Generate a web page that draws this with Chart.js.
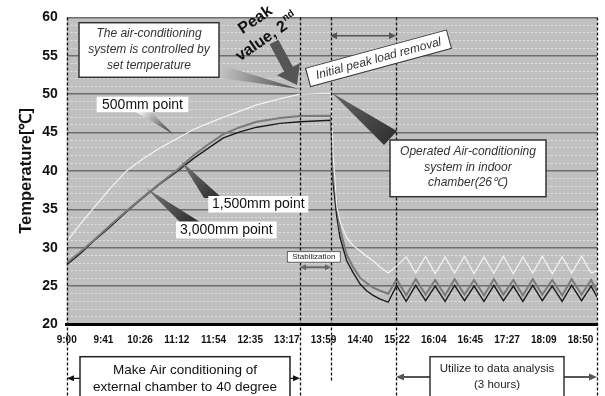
<!DOCTYPE html>
<html lang="en">
<head>
  <meta charset="UTF-8" />
  <title>Chamber temperature</title>
  <script src="https://cdn.jsdelivr.net/npm/chart.js"></script>
  <style>
    body { margin: 0; background: #fff; }
    #wrap { width: 605px; height: 396px; }
  </style>
</head>
<body>
  <div id="wrap"><canvas id="tempChart" width="605" height="396"></canvas></div>

  <script>
    // x tick labels (evenly spaced on the axis)
    const tickLabels = ['9:00', '9:41', '10:26', '11:12', '11:54', '12:35', '13:17', '13:59',
                        '14:40', '15:22', '16:04', '16:45', '17:27', '18:09', '18:50'];
    // position of each reading, in tick steps from 9:00
    const pos = [0, 0.36, 0.72, 1.18, 1.63, 2.08, 2.54, 3.0, 3.45, 3.9, 4.27, 4.72, 5.18, 5.81, 6.36, 7.2,
                 7.26, 7.36, 7.45, 7.63, 7.8, 7.99, 8.17, 8.35, 8.54, 8.76, 8.99,
                 9.25, 9.51, 9.78, 10.04, 10.31, 10.57, 10.84, 11.1, 11.37, 11.64, 11.9, 12.17,
                 12.43, 12.7, 12.96, 13.23, 13.5, 13.76, 14.03, 14.29, 14.45];
    const t500 = [30.8, 33.0, 35.1, 37.7, 40.0, 41.6, 43.0, 44.2, 45.4, 46.3, 47.0, 47.8, 48.6, 49.4, 50.0, 50.1,
                  42.0, 35.5, 33.4, 31.3, 30.3, 29.6, 28.9, 28.3, 27.5, 26.7, 27.6,
                  28.8, 26.7, 28.9, 26.6, 28.8, 26.7, 28.9, 26.6, 28.8, 26.7, 28.9, 26.6,
                  28.8, 26.7, 28.9, 26.6, 28.8, 26.7, 28.9, 26.7, 27.0];
    const t1500 = [28.0, 29.4, 30.9, 32.9, 34.8, 36.6, 38.4, 40.1, 42.0, 43.6, 44.8, 45.7, 46.4, 46.9, 47.15, 47.2,
                   40.0, 35.5, 32.3, 29.1, 27.5, 26.1, 25.4, 24.8, 24.4, 24.0, 25.9,
                   23.8, 25.9, 23.9, 25.8, 23.8, 25.9, 23.9, 25.8, 23.8, 25.9, 23.9, 25.8,
                   23.8, 25.9, 23.9, 25.8, 23.8, 25.9, 23.9, 25.8, 24.3];
    const t3000 = [27.8, 29.2, 30.8, 32.7, 34.7, 36.5, 38.3, 39.9, 41.6, 43.1, 44.3, 45.1, 45.7, 46.2, 46.4, 46.6,
                   38.5, 34.0, 31.3, 28.3, 26.8, 25.3, 24.4, 23.8, 23.3, 22.9, 25.1,
                   23.0, 25.1, 23.1, 25.0, 23.0, 25.1, 23.1, 25.0, 23.0, 25.1, 23.1, 25.0,
                   23.0, 25.1, 23.1, 25.0, 23.0, 25.1, 23.1, 25.0, 23.6];
    // dashed phase markers, in tick steps
    const markerPos = [0, 6.36, 7.19, 8.97, 14.45];

    const FONT = "'Liberation Sans', Arial, sans-serif";

    function series(vals) {
      return pos.map((p, i) => ({ x: p, y: vals[i] }));
    }

    function wedge(ctx, tip, b1, b2, cTip, cBase) {
      const mx = (b1[0] + b2[0]) / 2, my = (b1[1] + b2[1]) / 2;
      const g = ctx.createLinearGradient(mx, my, tip[0], tip[1]);
      g.addColorStop(0, cBase);
      g.addColorStop(1, cTip);
      ctx.fillStyle = g;
      ctx.beginPath();
      ctx.moveTo(b1[0], b1[1]);
      ctx.lineTo(tip[0], tip[1]);
      ctx.lineTo(b2[0], b2[1]);
      ctx.closePath();
      ctx.fill();
    }

    function textBox(ctx, x, y, w, h, stroke, lw) {
      ctx.fillStyle = '#fff';
      ctx.fillRect(x, y, w, h);
      if (stroke) {
        ctx.strokeStyle = stroke;
        ctx.lineWidth = lw;
        ctx.strokeRect(x, y, w, h);
      }
    }

    function centerText(ctx, lines, cx, ys, font, color) {
      ctx.font = font;
      ctx.fillStyle = color;
      ctx.textAlign = 'center';
      ctx.textBaseline = 'middle';
      lines.forEach((t, i) => ctx.fillText(t, cx, ys[i]));
    }

    function dblArrow(ctx, x1, x2, y, color, lw, hl, hw) {
      ctx.strokeStyle = color;
      ctx.fillStyle = color;
      ctx.lineWidth = lw;
      ctx.beginPath();
      ctx.moveTo(x1 + hl * 0.5, y);
      ctx.lineTo(x2 - hl * 0.5, y);
      ctx.stroke();
      [[x1, 1], [x2, -1]].forEach(([x, d]) => {
        ctx.beginPath();
        ctx.moveTo(x, y);
        ctx.lineTo(x + d * hl, y - hw);
        ctx.lineTo(x + d * hl, y + hw);
        ctx.closePath();
        ctx.fill();
      });
    }

    function blockArrow(ctx, x1, y1, x2, y2, sw, hw, hl, color) {
      const dx = x2 - x1, dy = y2 - y1, L = Math.hypot(dx, dy);
      const ux = dx / L, uy = dy / L, nx = -uy, ny = ux;
      const bx = x2 - ux * hl, by = y2 - uy * hl;
      ctx.beginPath();
      ctx.moveTo(x1 + nx * sw / 2, y1 + ny * sw / 2);
      ctx.lineTo(bx + nx * sw / 2, by + ny * sw / 2);
      ctx.lineTo(bx + nx * hw / 2, by + ny * hw / 2);
      ctx.lineTo(x2, y2);
      ctx.lineTo(bx - nx * hw / 2, by - ny * hw / 2);
      ctx.lineTo(bx - nx * sw / 2, by - ny * sw / 2);
      ctx.lineTo(x1 - nx * sw / 2, y1 - ny * sw / 2);
      ctx.closePath();
      ctx.fillStyle = color;
      ctx.fill();
    }

    const overlay = {
      id: 'overlay',
      beforeDraw(chart) {
        const { ctx, chartArea: a } = chart;
        ctx.save();
        ctx.fillStyle = '#fff';
        ctx.fillRect(0, 0, chart.width, chart.height);
        ctx.fillStyle = '#c0c0c0';
        ctx.fillRect(a.left, a.top, a.right - a.left, a.bottom - a.top);
        ctx.restore();
      },
      afterDraw(chart) {
        const ctx = chart.ctx;
        const xs = chart.scales.x;
        const top = chart.chartArea.top;
        const ends = [396, 396, 381, 396, 396];
        ctx.save();

        // dashed phase lines
        ctx.strokeStyle = '#111';
        ctx.lineWidth = 1.3;
        ctx.setLineDash([3, 2]);
        markerPos.forEach((p, i) => {
          const x = Math.round(xs.getPixelForValue(p)) + 0.5;
          ctx.beginPath();
          ctx.moveTo(x, top);
          ctx.lineTo(x, ends[i]);
          ctx.stroke();
        });
        ctx.setLineDash([]);

        // callout wedges
        wedge(ctx, [299, 89], [205, 60], [214, 77], '#4a4a4a', '#d4d4d4');
        wedge(ctx, [173, 134], [134, 111], [150, 111], '#333', '#eaeaea');
        wedge(ctx, [181, 161], [204, 198], [222, 198], '#777', '#333');
        wedge(ctx, [146, 188], [180, 222], [200, 222], '#777', '#333');
        wedge(ctx, [332, 93], [384, 145], [397, 131], '#666', '#333');

        // set-temperature box
        textBox(ctx, 79, 22.7, 140, 54.6, '#333', 1.5);
        centerText(ctx, ['The air-conditioning', 'system is controlled by', 'set temperature'],
                   149, [34, 50, 65.5], 'italic 12px ' + FONT, '#333');

        // peak label
        ctx.save();
        ctx.translate(255.5, 20);
        ctx.rotate(-34.5 * Math.PI / 180);
        ctx.font = 'bold 16px ' + FONT;
        ctx.fillStyle = '#111';
        ctx.textAlign = 'center';
        ctx.textBaseline = 'middle';
        ctx.fillText('Peak', 0, 0);
        const w2 = ctx.measureText('value, 2').width;
        ctx.fillText('value, 2', -7, 21);
        ctx.font = 'bold 10px ' + FONT;
        ctx.textAlign = 'left';
        ctx.fillText('nd', -7 + w2 / 2 + 1, 15);
        ctx.restore();
        blockArrow(ctx, 274, 42, 297, 85, 10, 26, 18, '#555');

        // peak load removal label
        ctx.save();
        ctx.translate(378.5, 58.3);
        ctx.rotate(-15.2 * Math.PI / 180);
        textBox(ctx, -73, -9.5, 146, 19, '#333', 1);
        centerText(ctx, ['Initial peak load removal'], 0, [0.5], 'italic 12px ' + FONT, '#333');
        ctx.restore();
        dblArrow(ctx, 330, 396, 35.7, '#555', 1.6, 7, 3.5);

        // indoor chamber box
        textBox(ctx, 390, 140, 156, 56.7, '#333', 1.5);
        centerText(ctx, ['Operated Air-conditioning', 'system in indoor', 'chamber(26\u2103)'],
                   468, [152, 167.5, 183], 'italic 12px ' + FONT, '#333');

        // series labels
        textBox(ctx, 96.7, 96.7, 91.6, 15.5);
        textBox(ctx, 208.3, 196, 100, 16.5);
        textBox(ctx, 176, 221.5, 100.7, 17);
        centerText(ctx, ['500mm point'], 142.5, [104.8], '14px ' + FONT, '#111');
        centerText(ctx, ['1,500mm point'], 258.3, [204.5], '14px ' + FONT, '#111');
        centerText(ctx, ['3,000mm point'], 226.3, [230.2], '14px ' + FONT, '#111');

        // stabilization
        textBox(ctx, 287.3, 251.7, 53, 10.5, '#444', 0.8);
        centerText(ctx, ['Stabilization'], 313.8, [257.2], '8px ' + FONT, '#222');
        dblArrow(ctx, 300, 331, 267.3, '#666', 2, 6, 3);

        // bottom phase labels
        dblArrow(ctx, 67, 300, 378.3, '#111', 1.2, 7, 3);
        textBox(ctx, 80, 356.7, 210, 45, '#222', 1.5);
        centerText(ctx, ['Make Air conditioning of', 'external chamber to 40 degree'],
                   185, [370, 387.5], '13.5px ' + FONT, '#111');
        dblArrow(ctx, 396, 597, 377, '#555', 2, 8, 3.5);
        textBox(ctx, 430, 356.7, 134, 45, '#333', 1.5);
        centerText(ctx, ['Utilize to data analysis', '(3 hours)'],
                   497, [369, 384.5], '11.5px ' + FONT, '#222');

        ctx.restore();
      }
    };

    const ctx = document.getElementById('tempChart').getContext('2d');
    new Chart(ctx, {
      type: 'line',
      data: {
        datasets: [
          { label: '500mm point', data: series(t500), borderColor: '#f4f4f4', borderWidth: 1.2 },
          { label: '1,500mm point', data: series(t1500), borderColor: '#7a7a7a', borderWidth: 2 },
          { label: '3,000mm point', data: series(t3000), borderColor: '#1c1c1c', borderWidth: 1.4 }
        ]
      },
      options: {
        responsive: false,
        animation: false,
        devicePixelRatio: 1,
        layout: { padding: { top: 12.5, right: 8, bottom: 0, left: 0 } },
        elements: { point: { radius: 0 }, line: { tension: 0 } },
        plugins: { legend: { display: false }, tooltip: { enabled: false } },
        scales: {
          x: {
            type: 'linear',
            min: 0,
            max: 14.45,
            afterBuildTicks: s => { s.ticks = tickLabels.map((t, i) => ({ value: i })); },
            afterFit: s => { s.height = 71.5; },
            ticks: {
              autoSkip: false,
              maxRotation: 0,
              padding: 10,
              color: '#111',
              font: { family: FONT, size: 10, weight: 'bold' },
              callback: v => tickLabels[v] ?? ''
            },
            grid: { display: false, drawTicks: false },
            border: { color: '#000', width: 3 }
          },
          y: {
            min: 20,
            max: 60,
            afterFit: s => { s.width = 66.7; },
            ticks: {
              stepSize: 5,
              padding: 9,
              color: '#111',
              font: { family: FONT, size: 14, weight: 'bold' }
            },
            grid: { color: '#6e6e6e', lineWidth: 1.5, drawTicks: false },
            border: { display: false },
            title: {
              display: true,
              text: 'Temperature[\u2103]',
              color: '#111',
              font: { family: FONT, size: 16.5, weight: 'bold' },
              padding: { top: 17, bottom: 0 }
            }
          },
          yMinor: {
            position: 'right',
            min: 20,
            max: 60,
            afterFit: s => { s.width = 0; },
            ticks: { display: false, stepSize: 1 },
            grid: {
              drawTicks: false,
              lineWidth: 1,
              color: c => (c.tick && c.tick.value % 5 === 0) ? 'rgba(0,0,0,0)' : '#e2e2e2'
            },
            border: { display: false, dash: [2, 2] }
          }
        }
      },
      plugins: [overlay]
    });
  </script>
</body>
</html>
